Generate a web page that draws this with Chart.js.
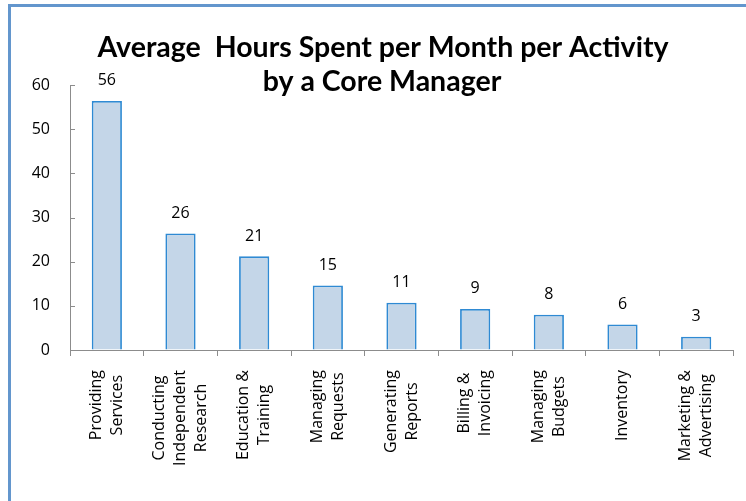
<!DOCTYPE html>
<html>
<head>
<meta charset="utf-8">
<script src="https://cdn.jsdelivr.net/npm/chart.js@4"></script>
<style>
  html, body { margin: 0; padding: 0; background: #fff; overflow: hidden; }
  #wrap { position: relative; width: 746px; height: 501px; }
  #frame {
    position: absolute; left: 8px; top: 4px; width: 800px; height: 600px;
    border-left: 3px solid #6396cd; border-top: 3px solid #6396cd;
    pointer-events: none;
  }
</style>
</head>
<body>
<div id="wrap">
  <canvas id="chart" width="746" height="501"></canvas>
  <div id="frame"></div>
</div>
<script>
// ===============================
// Chart Data
// ===============================
const categories = [
  ["Providing", "Services"],
  ["Conducting", "Independent", "Research"],
  ["Education &", "Training"],
  ["Managing", "Requests"],
  ["Generating", "Reports"],
  ["Billing &", "Invoicing"],
  ["Managing", "Budgets"],
  ["Inventory"],
  ["Marketing &", "Advertising"]
];
const hours = [56.4, 26.4, 21.2, 14.6, 10.7, 9.3, 8.0, 5.8, 3.0];
const yTicks = [0, 10, 20, 30, 40, 50, 60];
const titleLines = ["Average  Hours Spent per Month per Activity", "by a Core Manager"];

const axisColor = "#8c8c8c";
const textFont = "'Open Sans', 'Noto Sans', sans-serif";

// ===============================
// Drawing helpers (title, labels, inner ticks)
// ===============================
const extras = {
  id: "extras",
  afterDraw(chart) {
    const ctx = chart.ctx;
    const xs = chart.scales.x;
    const ys = chart.scales.y;
    const meta = chart.getDatasetMeta(0);
    ctx.save();

    // inward y ticks
    ctx.strokeStyle = axisColor;
    ctx.lineWidth = 1;
    yTicks.forEach(v => {
      const y = Math.round(ys.getPixelForValue(v)) + 0.5;
      ctx.beginPath();
      ctx.moveTo(xs.left, y);
      ctx.lineTo(xs.left + 5, y);
      ctx.stroke();
    });

    // value labels
    ctx.fillStyle = "#000";
    ctx.font = "16px " + textFont;
    ctx.textAlign = "center";
    ctx.textBaseline = "middle";
    meta.data.forEach((bar, i) => {
      ctx.fillText(String(Math.round(hours[i])), bar.x, bar.y - 20);
    });

    // rotated category labels
    ctx.font = "16px " + textFont;
    const lineH = 21;
    const top = ys.bottom + 20;
    categories.forEach((lines, i) => {
      const cx = xs.getPixelForValue(i);
      const widths = lines.map(l => ctx.measureText(l).width);
      const maxW = Math.max(...widths);
      const mid = top + maxW / 2;
      lines.forEach((line, j) => {
        const lx = cx + (j - (lines.length - 1) / 2) * lineH;
        ctx.save();
        ctx.translate(lx, mid);
        ctx.rotate(-Math.PI / 2);
        ctx.textAlign = "center";
        ctx.textBaseline = "middle";
        ctx.fillText(line, 0, 0);
        ctx.restore();
      });
    });

    // title
    ctx.font = "bold 28.5px Lato, 'Open Sans', sans-serif";
    ctx.textAlign = "center";
    ctx.textBaseline = "alphabetic";
    ctx.fillText(titleLines[0], 383, 57);
    ctx.fillText(titleLines[1], 382, 91);
    ctx.restore();
  }
};

// ===============================
// Chart
// ===============================
new Chart(document.getElementById("chart"), {
  type: "bar",
  data: {
    labels: categories.map(c => c.join(" ")),
    datasets: [{
      data: hours,
      backgroundColor: "#c4d6e8",
      borderColor: "#2f8ad3",
      borderWidth: 1.8,
      categoryPercentage: 0.41,
      barPercentage: 1
    }]
  },
  options: {
    responsive: false,
    animation: false,
    layout: { padding: { top: 85, right: 13, left: 0, bottom: 0 } },
    plugins: {
      legend: { display: false },
      title: { display: false },
      tooltip: { enabled: false }
    },
    scales: {
      x: {
        offset: true,
        grid: {
          offset: true,
          drawOnChartArea: false,
          drawTicks: true,
          tickLength: 6,
          color: axisColor
        },
        border: { color: axisColor, width: 1 },
        ticks: { display: false },
        afterFit(scale) { scale.height = 151; }
      },
      y: {
        min: 0,
        max: 60,
        afterBuildTicks(scale) { scale.ticks = yTicks.map(v => ({ value: v })); },
        grid: { drawOnChartArea: false, drawTicks: false },
        border: { color: axisColor, width: 1 },
        ticks: {
          padding: 20,
          color: "#000",
          font: { size: 16, family: textFont }
        },
        afterFit(scale) { scale.width = 70; }
      }
    }
  },
  plugins: [extras]
});
</script>
</body>
</html>
